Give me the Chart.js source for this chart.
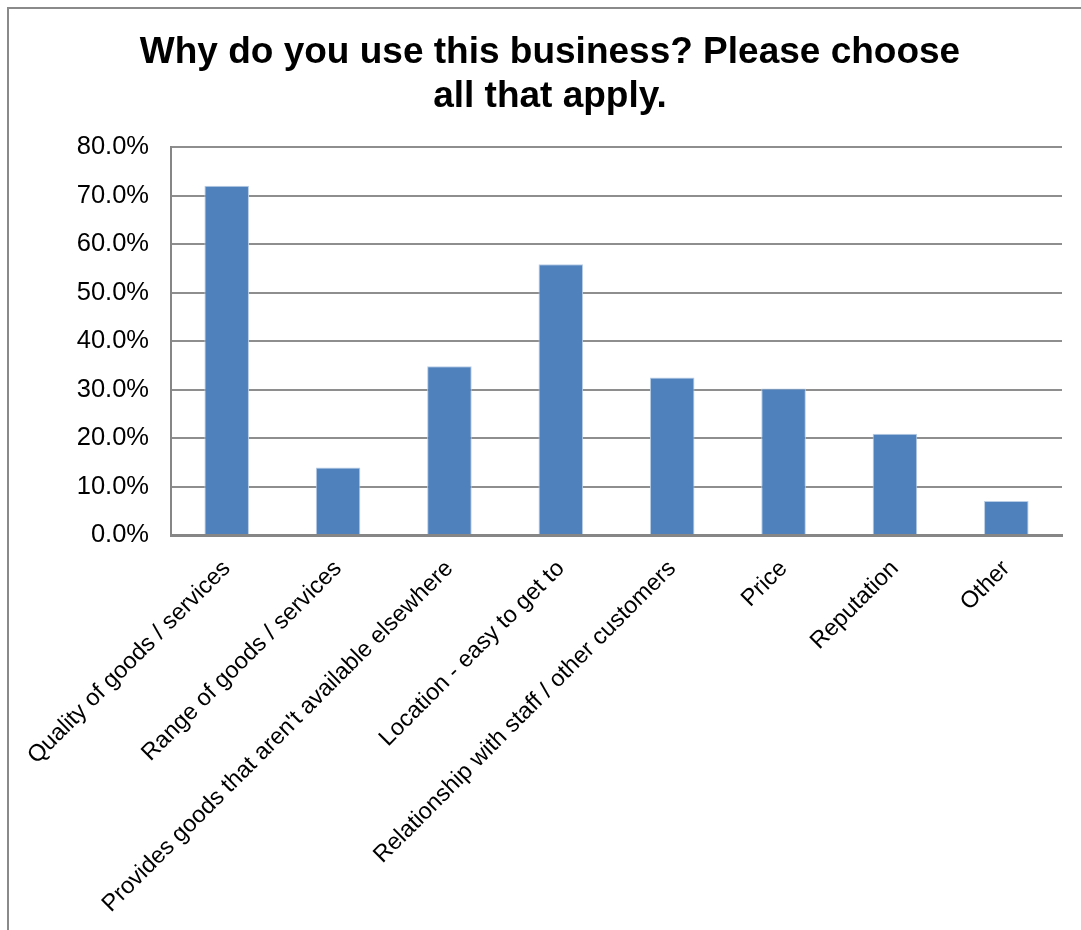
<!DOCTYPE html>
<html>
<head>
<meta charset="utf-8">
<script src="https://cdn.jsdelivr.net/npm/chart.js@4.4.1/dist/chart.umd.min.js"></script>
<style>
  html, body { margin: 0; padding: 0; background: #ffffff; }
  #wrap { position: relative; width: 1081px; height: 930px; }
  canvas { display: block; }
</style>
</head>
<body>
<div id="wrap"><canvas id="chart" width="1081" height="930"></canvas></div>
<script>
// Survey answers: share of respondents choosing each reason (percent)
const categories = [
  'Quality of goods / services',
  'Range of goods / services',
  "Provides goods that aren't available elsewhere",
  'Location - easy to get to',
  'Relationship with staff / other customers',
  'Price',
  'Reputation',
  'Other'
];
const shares = [72.0, 13.9, 34.8, 55.8, 32.5, 30.2, 20.9, 7.0];
const yTicks = [0, 10, 20, 30, 40, 50, 60, 70, 80];
const titleLines = ['Why do you use this business? Please choose', 'all that apply.'];

const FONT = '"Liberation Sans", Arial, Helvetica, sans-serif';

// Background, gray frame along the top/left edges, and the two-line heading
const framePlugin = {
  id: 'frame',
  beforeDraw(chart) {
    const ctx = chart.ctx;
    ctx.save();
    ctx.fillStyle = '#ffffff';
    ctx.fillRect(0, 0, chart.width, chart.height);
    ctx.fillStyle = '#8a8a8a';
    ctx.fillRect(7, 7, chart.width - 7, 2);
    ctx.fillRect(7, 7, 2, chart.height - 7);
    ctx.fillStyle = '#000000';
    ctx.font = 'bold 37px ' + FONT;
    ctx.textAlign = 'center';
    ctx.textBaseline = 'alphabetic';
    ctx.fillText(titleLines[0], 550, 63);
    ctx.fillText(titleLines[1], 550, 107);
    ctx.restore();
  }
};

new Chart(document.getElementById('chart'), {
  type: 'bar',
  data: {
    labels: categories,
    datasets: [{
      data: shares,
      backgroundColor: '#4f81bd',
      borderColor: '#b9cde5',
      borderWidth: 1,
      barPercentage: 0.4,
      categoryPercentage: 1.0
    }]
  },
  options: {
    responsive: false,
    animation: false,
    layout: { padding: { left: 0, right: 19, top: 147, bottom: 0 } },
    plugins: {
      legend: { display: false },
      tooltip: { enabled: false },
      title: { display: false }
    },
    scales: {
      x: {
        grid: { display: false },
        border: { display: true, color: '#868686', width: 3 },
        ticks: {
          color: '#000000',
          font: { family: FONT, size: 23.5 },
          maxRotation: 45,
          minRotation: 45,
          autoSkip: false,
          padding: 12
        },
        afterFit(scale) { scale.height = 395; }
      },
      y: {
        min: 0,
        max: 80,
        afterBuildTicks(scale) { scale.ticks = yTicks.map(v => ({ value: v })); },
        grid: { color: '#8e8e8e', lineWidth: 2, drawTicks: false },
        border: { display: true, color: '#868686', width: 2 },
        ticks: {
          color: '#000000',
          font: { family: FONT, size: 25.5 },
          padding: 22,
          callback: v => v.toFixed(1) + '%'
        },
        afterFit(scale) { scale.width = 171; }
      }
    }
  },
  plugins: [framePlugin]
});
</script>
</body>
</html>
